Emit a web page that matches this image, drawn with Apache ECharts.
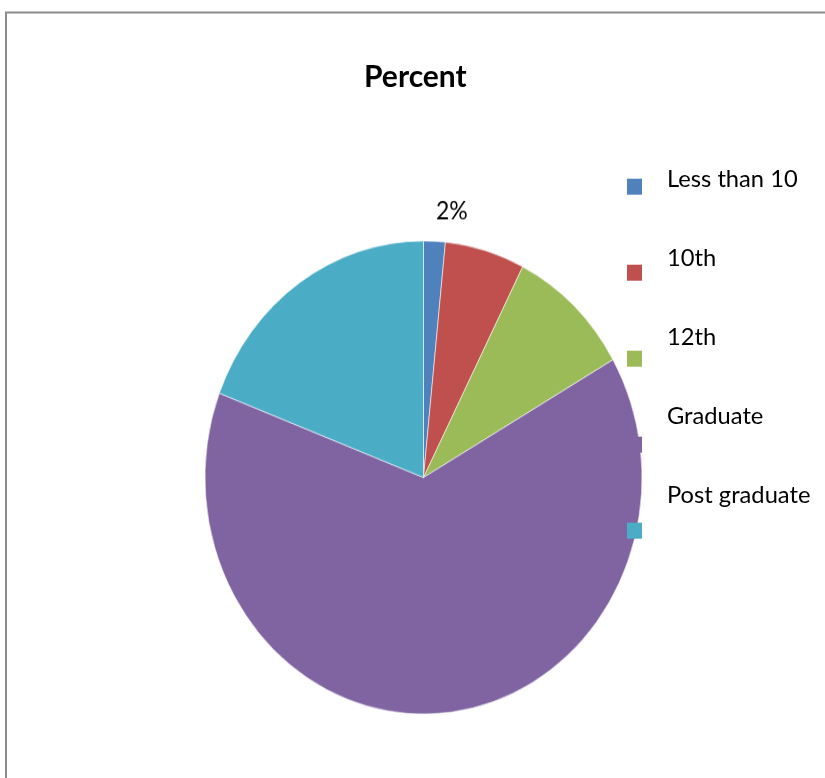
<!DOCTYPE html>
<html>
<head>
<meta charset="utf-8">
<script src="https://cdn.jsdelivr.net/npm/echarts@6/dist/echarts.min.js"></script>
<style>
  html, body { margin: 0; padding: 0; background: #fff; }
  #wrap { position: relative; width: 825px; height: 778px; overflow: hidden; background: #fff; }
  #base, #pie { position: absolute; left: 0; top: 0; width: 825px; height: 778px; }
  /* the original pie is a little taller than wide */
  #pie { transform: scaleY(1.0824); transform-origin: 423.5px 477.5px; }
</style>
</head>
<body>
<div id="wrap">
  <div id="pie"></div>
  <div id="base"></div>
</div>
<script>
const categories = ['Less than 10', '10th', '12th', 'Graduate', 'Post graduate']
const percents = [1.6, 5.9, 9.2, 64.1, 19.2]
const labelled = ['Less than 10'] // only this label is visible in the original
const colors = ['#4F81BD', '#C0504D', '#9BBB59', '#8064A2', '#4BACC6']
const font = 'Lato'

// pie layer (below)
let pie = echarts.init(document.getElementById('pie'), null, { renderer: 'canvas' })
pie.setOption({
  animation: false,
  color: colors,
  series: [{
    type: 'pie',
    center: [423.5, 477.5],
    radius: 218.5,
    startAngle: 90,
    clockwise: true,
    avoidLabelOverlap: false,
    percentPrecision: 0,
    silent: true,
    itemStyle: { borderColor: 'rgba(255,255,255,0.7)', borderWidth: 0.8 },
    label: {
      position: 'outside',
      formatter: '{d}%',
      fontFamily: font,
      fontSize: 23,
      color: '#000',
      distanceToLabelLine: 0
    },
    labelLine: { show: false, length: 28, length2: 0 },
    data: categories.map((name, i) => ({
      name,
      value: percents[i],
      label: { show: labelled.includes(name) }
    }))
  }]
})

// top layer: frame, title, legend (markers sit over the pie)
let base = echarts.init(document.getElementById('base'), null, { renderer: 'canvas' })
base.setOption({
  animation: false,
  color: colors,
  graphic: [{
    type: 'rect',
    shape: { x: 6, y: 12.5, width: 900, height: 900 },
    style: { fill: 'none', stroke: '#8c8c8c', lineWidth: 2 },
    silent: true
  }],
  title: {
    text: 'Percent',
    left: 364,
    top: 60,
    padding: 0,
    textStyle: { fontFamily: font, fontSize: 30, fontWeight: 'bold', color: '#000', lineHeight: 34 }
  },
  legend: [
    {
      // markers (sit lower than the text, as in the original)
      orient: 'vertical',
      left: 627,
      top: 178.7,
      padding: 0,
      itemWidth: 15,
      itemHeight: 16,
      itemGap: 70,
      icon: 'rect',
      selectedMode: false,
      data: categories,
      formatter: () => '',
      textStyle: { fontSize: 1, lineHeight: 1 }
    },
    {
      // names
      orient: 'vertical',
      left: 662,
      top: 164.5,
      padding: 0,
      itemWidth: 0,
      itemHeight: 0,
      itemGap: 49,
      icon: 'none',
      selectedMode: false,
      data: categories,
      textStyle: { fontFamily: font, fontSize: 23.7, lineHeight: 30, color: '#000' }
    }
  ],
  series: [{
    type: 'pie',
    radius: 0,
    silent: true,
    label: { show: false },
    labelLine: { show: false },
    data: categories.map((name, i) => ({ name, value: percents[i] }))
  }]
})
</script>
</body>
</html>
